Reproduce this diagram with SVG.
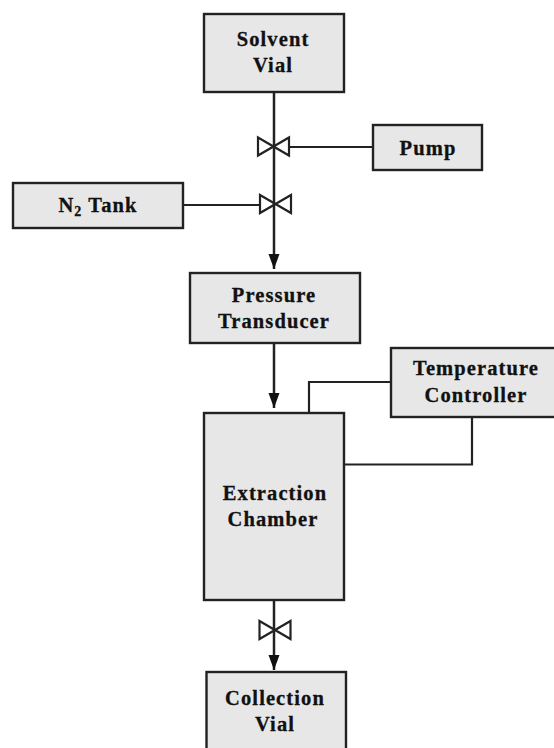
<svg xmlns="http://www.w3.org/2000/svg" width="554" height="748" viewBox="0 0 554 748">
<style>
.box{fill:#e7e7e7;stroke:#222;stroke-width:2.4}
.t{font-family:"Liberation Serif","Times New Roman",serif;font-weight:bold;font-size:20.500px;letter-spacing:1.1px;fill:#111;stroke:#111;stroke-width:.3;text-anchor:middle}
.l{fill:none;stroke:#222;stroke-width:2.2}
.m{fill:none;stroke:#222;stroke-width:2.500}
.v{fill:#fff;stroke:#222;stroke-width:2.2}
</style>
<defs>
<marker id="arrow" markerUnits="userSpaceOnUse" markerWidth="16" markerHeight="12" refX="15" refY="5.500" orient="auto"><path d="M0 0L15 5.500L0 11Z" fill="#111"/></marker>
<polygon id="valve" points="-15.500,-9 15.500,9 15.500,-9 -15.500,9" class="v"/>
</defs>
<rect width="554" height="748" fill="#fff"/>
<g id="connectors">
<path class="l" d="M290 147H373"/>
<path class="l" d="M183 205H260"/>
<path class="l" d="M391 382H309V413"/>
<path class="l" d="M472 417V464.500H344"/>
</g>
<g id="valve1"><use href="#valve" x="273.500" y="146.500"/></g>
<g id="valve2"><use href="#valve" x="275.500" y="204"/></g>
<g id="valve3"><use href="#valve" x="275" y="630"/></g>
<g id="main-line">
<path class="m" d="M274 92V269" marker-end="url(#arrow)"/>
<path class="m" d="M274 343V408" marker-end="url(#arrow)"/>
<path class="m" d="M274 600V670" marker-end="url(#arrow)"/>
</g>
<g id="solvent-vial"><rect class="box" x="204" y="14" width="140" height="78"/><text class="t" x="273" y="46">Solvent</text><text class="t" x="273" y="72">Vial</text></g>
<g id="pump"><rect class="box" x="373" y="125" width="109" height="45"/><text class="t" x="428" y="155">Pump</text></g>
<g id="n2-tank"><rect class="box" x="13" y="183" width="170" height="45"/><text class="t" x="98" y="212">N<tspan font-size="14" dy="4">2</tspan><tspan dy="-4"> Tank</tspan></text></g>
<g id="pressure-transducer"><rect class="box" x="190" y="273" width="170" height="70"/><text class="t" x="274" y="302">Pressure</text><text class="t" x="274" y="328">Transducer</text></g>
<g id="temperature-controller"><rect class="box" x="391" y="348" width="170" height="69"/><text class="t" x="476" y="375">Temperature</text><text class="t" x="476" y="402">Controller</text></g>
<g id="extraction-chamber"><rect class="box" x="204" y="413" width="140" height="187"/><text class="t" x="275" y="500">Extraction</text><text class="t" x="273" y="526">Chamber</text></g>
<g id="collection-vial"><rect class="box" x="206.500" y="672" width="139.500" height="90"/><text class="t" x="275" y="705">Collection</text><text class="t" x="275" y="731">Vial</text></g>
</svg>
